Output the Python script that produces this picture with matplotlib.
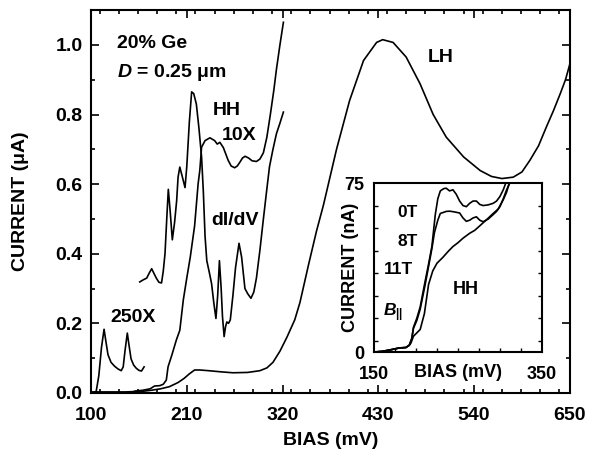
import matplotlib
matplotlib.use("Agg")
import matplotlib.pyplot as plt
from matplotlib.ticker import MultipleLocator, FixedLocator

plt.rcParams['font.family'] = ['Liberation Sans', 'DejaVu Sans']
plt.rcParams['font.weight'] = 'bold'
plt.rcParams['mathtext.fontset'] = 'custom'
plt.rcParams['mathtext.it'] = 'Liberation Sans:italic:bold'
plt.rcParams['mathtext.rm'] = 'Liberation Sans:bold'

# main I-V curve (mV, uA)
iv_bias = [100, 120, 140, 150, 160, 170, 180, 190, 200, 207, 213, 219, 225, 235, 248, 263,
           280, 294, 302, 309, 317, 325, 334, 340, 350, 359, 367, 382, 397, 413, 428, 435,
           447, 462, 478, 493, 508, 528, 547, 560, 572, 585, 595, 604, 614, 623, 631, 639,
           645, 650]
iv_cur = [0.003, 0.003, 0.003, 0.004, 0.005, 0.008, 0.012, 0.018, 0.03, 0.042, 0.055, 0.066,
          0.066, 0.064, 0.061, 0.058, 0.059, 0.064, 0.072, 0.088, 0.12, 0.16, 0.21, 0.26,
          0.37, 0.465, 0.54, 0.70, 0.84, 0.955, 1.007, 1.015, 1.007, 0.965, 0.888, 0.80,
          0.735, 0.678, 0.639, 0.622, 0.616, 0.62, 0.635, 0.668, 0.71, 0.764, 0.81, 0.86,
          0.90, 0.945]

# HH region, x10
hh_bias = [150, 160, 168, 173, 179, 183, 186.5, 188.5, 193, 198, 202, 206, 210, 214, 219,
           223, 225, 227, 231, 236.6, 242, 245, 248, 252, 257.6, 261, 265, 268, 271, 274,
           277, 281, 285, 290, 294, 298, 302, 306, 310, 313, 317, 321]
hh_cur = [0.005, 0.008, 0.012, 0.02, 0.021, 0.025, 0.037, 0.075, 0.11, 0.152, 0.18, 0.267,
          0.33, 0.39, 0.48, 0.60, 0.64, 0.706, 0.725, 0.733, 0.725, 0.715, 0.72, 0.705,
          0.668, 0.652, 0.647, 0.652, 0.663, 0.675, 0.68, 0.675, 0.667, 0.665, 0.672, 0.69,
          0.735, 0.80, 0.87, 0.93, 1.0, 1.065]

# dI/dV trace
didv_bias = [156, 160, 164, 167, 169.7, 172, 175, 178, 181, 183, 185, 187, 188.8, 191, 193.4,
             196, 198.4, 200, 202, 205, 208, 210, 213, 215.6, 218, 221, 224, 227, 229, 231,
             233, 236, 238.5, 241, 243.5, 245.5, 247.5, 249.5, 251, 252.9, 254.5, 256, 258,
             260, 263, 266, 270, 273, 276.8, 280, 283.7, 287, 290, 294, 298, 301.7, 305, 309,
             313, 317, 321]
didv_val = [0.319, 0.325, 0.33, 0.345, 0.357, 0.345, 0.33, 0.318, 0.316, 0.35, 0.40, 0.50,
            0.585, 0.52, 0.44, 0.49, 0.553, 0.62, 0.649, 0.62, 0.59, 0.65, 0.78, 0.865, 0.86,
            0.83, 0.76, 0.678, 0.58, 0.45, 0.38, 0.345, 0.314, 0.26, 0.214, 0.28, 0.38, 0.30,
            0.22, 0.162, 0.19, 0.204, 0.20, 0.21, 0.28, 0.36, 0.43, 0.39, 0.30, 0.285, 0.272,
            0.29, 0.33, 0.41, 0.50, 0.58, 0.65, 0.70, 0.745, 0.775, 0.807]

# low bias, x250
low_bias = [103, 106, 109, 112, 115, 117, 119.5, 123, 127, 131, 134.7, 137, 139, 141.7,
            143.5, 146, 149, 152, 155, 158, 161]
low_cur = [0.0, 0.005, 0.05, 0.13, 0.183, 0.15, 0.11, 0.088, 0.077, 0.069, 0.064, 0.075,
           0.12, 0.172, 0.14, 0.098, 0.08, 0.071, 0.065, 0.063, 0.075]

# inset: HH current in parallel field (mV, nA)
base_b = [150, 160, 170, 180, 188, 192, 195]
base_i = [0, 0.3, 1, 1.8, 2, 3, 6]
b0_bias = base_b + [197, 201, 205, 211, 215, 219, 223, 226, 229, 233, 236, 240, 244, 248, 252,
                    256, 260, 264, 268, 272, 276, 280, 286, 292, 296, 300, 304, 308]
b0_cur = base_i + [11, 15, 20, 31.6, 39, 47, 61, 68, 71.5, 72.5, 72.7, 71.5, 72, 70, 67, 65,
                   64.5, 66, 67, 67, 65.5, 65, 65.3, 66, 67, 69, 72, 76]
b8_bias = base_b + [197, 201, 205, 211, 215, 219, 222, 226, 229, 233, 236, 240, 244, 248, 252,
                    256, 260, 264, 268, 272, 276, 280, 286, 292, 296, 300, 304, 308, 313]
b8_cur = base_i + [10.5, 14, 19, 30, 38, 46, 53, 58.5, 61.5, 62, 62.4, 62.5, 62.3, 62, 61.7,
                   59.5, 58, 58.5, 59.5, 60, 58.5, 57.8, 59, 61, 62.4, 64.5, 68, 72, 76]
b11_bias = base_b[:-1] + [194, 197, 201, 205, 210, 215, 220, 225, 232, 238, 244, 250, 256,
                          264, 270, 276, 284, 292, 298, 304, 308, 312]
b11_cur = base_i[:-1] + [4, 7, 8.5, 10, 17, 30, 36, 39.4, 42, 44.5, 46.8, 48.5, 50.5, 52.7,
                         54, 56, 58.7, 61.5, 63.5, 67.6, 71, 76]

fig = plt.figure(figsize=(5.89, 4.58), dpi=100)
ax = fig.add_axes([0.1545, 0.142, 0.813, 0.836])
lw = 1.2
ax.plot(iv_bias, iv_cur, color='k', lw=lw)
ax.plot(hh_bias, hh_cur, color='k', lw=lw)
ax.plot(didv_bias, didv_val, color='k', lw=lw)
ax.plot(low_bias, low_cur, color='k', lw=lw)

ax.set_xlim(100, 650)
ax.set_ylim(0, 1.1)
ax.xaxis.set_major_locator(FixedLocator([100, 210, 320, 430, 540, 650]))
ax.xaxis.set_minor_locator(MultipleLocator(22))
ax.yaxis.set_major_locator(FixedLocator([0, 0.2, 0.4, 0.6, 0.8, 1.0]))
ax.yaxis.set_minor_locator(MultipleLocator(0.1))
ax.set_yticklabels(['0.0', '0.2', '0.4', '0.6', '0.8', '1.0'])
ax.tick_params(which='both', direction='in', top=True, right=True, labelsize=14, width=1.2)
ax.tick_params(which='major', length=6)
ax.tick_params(axis='x', which='major', pad=10)
ax.tick_params(axis='y', which='major', pad=6)
ax.tick_params(which='minor', length=3)
for s in ax.spines.values():
    s.set_linewidth(1.5)
ax.set_xlabel('BIAS (mV)', fontsize=14, fontweight='bold')
ax.xaxis.set_label_coords(0.5, -0.123)
ax.xaxis.label.set_va('center')
ax.set_ylabel('CURRENT (μA)', fontsize=14, fontweight='bold')
ax.yaxis.set_label_coords(-0.148, 0.5)
ax.yaxis.label.set_va('center')

tk = dict(fontsize=14, fontweight='bold', va='center', ha='left')
ax.text(130, 1.004, '20% Ge', **tk)
ax.text(130, 0.92, r'$D$ = 0.25 μm', **tk)
ax.text(240, 0.811, 'HH', **tk)
ax.text(250.4, 0.74, '10X', **tk)
ax.text(487, 0.963, 'LH', **tk)
ax.text(238.6, 0.496, 'dI/dV', **tk)
ax.text(121.8, 0.218, '250X', **tk)

# inset
ins = fig.add_axes([0.635, 0.2314, 0.285, 0.369])
ilw = 1.2
ins.plot(b0_bias, b0_cur, color='k', lw=ilw)
ins.plot(b8_bias, b8_cur, color='k', lw=ilw)
ins.plot(b11_bias, b11_cur, color='k', lw=ilw)
ins.set_xlim(150, 350)
ins.set_ylim(0, 75)
ins.xaxis.set_major_locator(FixedLocator([150, 350]))
ins.xaxis.set_minor_locator(MultipleLocator(25))
ins.yaxis.set_major_locator(FixedLocator([0, 75]))
ins.yaxis.set_minor_locator(FixedLocator([5, 15, 25, 35, 45, 55, 65]))
ins.tick_params(which='both', direction='in', top=False, right=True, labelsize=13, width=1)
ins.tick_params(which='major', length=0)
ins.tick_params(axis='x', which='major', pad=10)
ins.tick_params(axis='y', which='major', pad=7)
ins.tick_params(which='minor', length=3)
for s in ins.spines.values():
    s.set_linewidth(1.5)
ins.text(0.5, -0.124, 'BIAS (mV)', transform=ins.transAxes, ha='center', va='center',
         fontsize=13, fontweight='bold')
ins.set_ylabel('CURRENT (nA)', fontsize=13, fontweight='bold')
ins.yaxis.set_label_coords(-0.143, 0.5)
ins.yaxis.label.set_va('center')

ik = dict(fontsize=12.5, fontweight='bold', va='center', ha='left')
ins.text(177.4, 61.8, '0T', **ik)
ins.text(177.4, 48.9, '8T', **ik)
ins.text(162, 36.4, '11T', **ik)
ins.text(160.7, 17.3, r'$B_{||}$', **ik)
ins.text(244, 27.6, 'HH', fontsize=13, fontweight='bold', va='center', ha='left')

fig.savefig('out.png', dpi=100)
